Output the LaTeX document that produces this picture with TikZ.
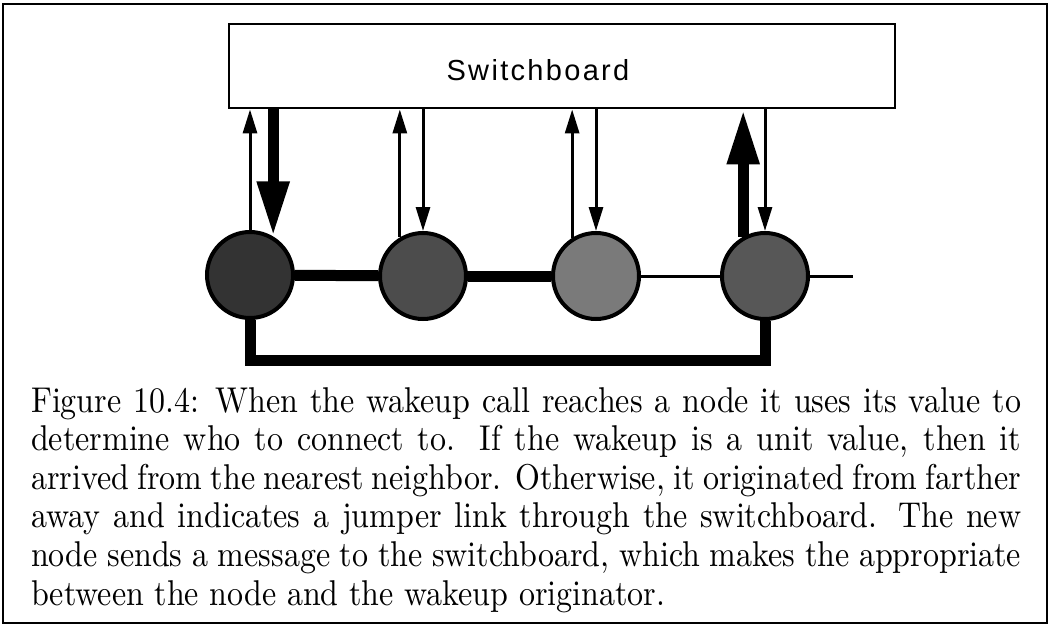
\documentclass[tikz,border=0pt]{standalone}
\usepackage{fontspec}
\usetikzlibrary{arrows.meta,calc}
\newfontfamily\boardfont[LetterSpace=8]{Liberation Sans}
\newfontfamily\capfont{lmroman10-regular}[Extension=.otf]
\begin{document}
\begin{tikzpicture}[x=1pt,y=-1pt,
  sbox/.style={draw,line width=2.8pt,minimum width=666pt,minimum height=84pt,inner sep=0pt},
  proc/.style={circle,draw,line width=4pt,minimum size=86pt,inner sep=0pt},
  thinarr/.style={line width=3pt,-{Triangle[length=24pt,width=14pt]}},
  thickarr/.style={line width=11pt,-{Triangle[length=55pt,width=30pt]}},
  thicklink/.style={line width=11pt},
  thinlink/.style={line width=3pt},
  frame/.style={line width=2.5pt}
]
\useasboundingbox (0,0) rectangle (1050,627);
\draw[frame] (3,4) rectangle (1047,623);
\node[sbox] (sw) at (562,66) {};
\node[font=\boardfont\fontsize{29}{32}\selectfont] (swlabel) at (538,70) {Switchboard};
\node[proc,fill=black!80] (c1) at (250,275) {};
\node[proc,fill=black!70] (c2) at (423,276) {};
\node[proc,fill=black!52] (c3) at (596,276) {};
\node[proc,fill=black!66] (c4) at (765,276) {};
\coordinate (tail) at (853,276);
\coordinate (lp) at (0,360);
% neighbour links
\draw[thicklink] (c1) -- (c2);
\draw[thicklink] (c2) -- (c3);
\draw[thinlink] (c3) -- (c4);
\draw[thinlink] (c4) -- (tail);
% bottom jumper loop
\draw[thicklink,line join=miter] (c1.south) -- (c1.south |- lp) -- (c4.south |- lp) -- (c4.south);
% arrows to and from the switchboard
\draw[thinarr] (c1.north) -- (c1.north |- sw.south);
\draw[thickarr] (c1.59 |- sw.south) -- (c1.59);
\draw[thinarr] (c2.121) -- (c2.121 |- sw.south);
\draw[thinarr] (c2.north |- sw.south) -- (c2.north);
\draw[thinarr] (c3.122) -- (c3.122 |- sw.south);
\draw[thinarr] (c3.north |- sw.south) -- (c3.north);
\draw[thickarr] (c4.119) -- (c4.119 |- sw.south);
\draw[thinarr] (c4.north |- sw.south) -- (c4.north);
% caption
\node[anchor=base west,inner sep=0pt] (cap) at (31,412) {\scalebox{1}[1.12]{\parbox[t]{990pt}{\capfont\fontsize{32}{34.5}\selectfont
Figure 10.4: When the wakeup call reaches a node it uses its value to\linebreak
determine who to connect to.  If the wakeup is a unit value, then it\linebreak
arrived from the nearest neighbor. Otherwise, it originated from farther\linebreak
away and indicates a jumper link through the switchboard.  The new\linebreak
node sends a message to the switchboard, which makes the appropriate\linebreak
between the node and the wakeup originator.}}};
\end{tikzpicture}
\end{document}
